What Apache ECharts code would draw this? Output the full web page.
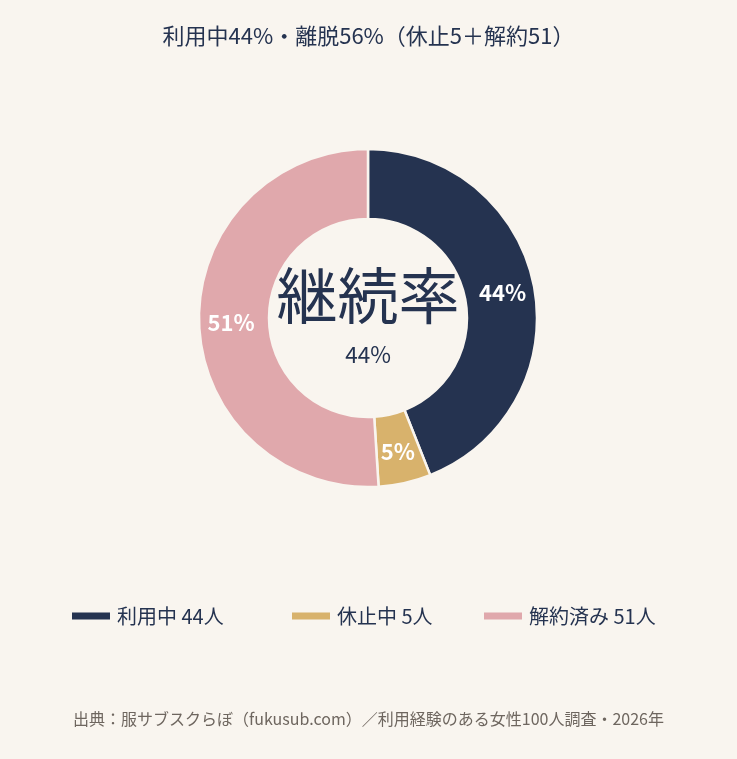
<!DOCTYPE html>
<html><head><meta charset="utf-8">
<script src="https://cdn.jsdelivr.net/npm/echarts@6/dist/echarts.min.js"></script>
<style>html,body{margin:0;padding:0;background:#f9f5ef;}#c{width:737px;height:759px;}</style>
</head><body><div id="c"></div>
<script>
const categories = ['利用中', '休止中', '解約済み'];
const counts = [44, 5, 51];
const colors = ['#253350', '#d8b26c', '#e0a8ac'];
const titleText = '利用中44%・離脱56%（休止5＋解約51）';
const centerLabel = '継続率';
const centerValue = '44%';
const sourceText = '出典：服サブスクらぼ（fukusub.com）／利用経験のある女性100人調査・2026年';

const FONT = '"Noto Sans CJK JP", "Noto Sans", sans-serif';
const total = counts.reduce((a, b) => a + b, 0);
const legendLefts = [72, 292, 484];

const chart = echarts.init(document.getElementById('c'));
chart.setOption({
  backgroundColor: '#f9f5ef',
  textStyle: { fontFamily: FONT },
  title: [
    { text: titleText, left: 'center', top: 25, padding: 0, textStyle: { fontFamily: FONT, fontSize: 22, fontWeight: 'normal', color: '#253350' } },
    { text: centerLabel, left: 368, top: 265, padding: 0, textAlign: 'center', textStyle: { fontFamily: FONT, fontSize: 61, fontWeight: 'normal', color: '#253350' } },
    { text: centerValue, left: 368, top: 343, padding: 0, textAlign: 'center', textStyle: { fontFamily: FONT, fontSize: 22.5, fontWeight: 'normal', color: '#253350' } },
    { text: sourceText, left: 'center', top: 711, padding: 0, textStyle: { fontFamily: FONT, fontSize: 16, fontWeight: 'normal', color: '#6e665f' } }
  ],
  legend: categories.map((c, i) => ({
    data: [c],
    left: legendLefts[i],
    top: 606,
    padding: 0,
    itemWidth: 38,
    itemHeight: 7,
    icon: 'rect',
    itemGap: 8,
    itemStyle: { borderWidth: 0 },
    formatter: name => name + ' ' + counts[categories.indexOf(name)] + '人',
    textStyle: { fontFamily: FONT, fontSize: 20, color: '#253350', padding: [0, 0, 0, 2] }
  })),
  series: [{
    type: 'pie',
    center: [368, 318],
    radius: [99, 169],
    startAngle: 90,
    clockwise: true,
    avoidLabelOverlap: false,
    itemStyle: { borderColor: '#f9f5ef', borderWidth: 2.5 },
    label: {
      show: true,
      position: 'inside',
      formatter: p => Math.round(p.value / total * 100) + '%',
      color: '#ffffff',
      fontFamily: FONT,
      fontSize: 22,
      fontWeight: 'bold'
    },
    labelLine: { show: false },
    emphasis: { disabled: true },
    data: categories.map((c, i) => ({ name: c, value: counts[i], itemStyle: { color: colors[i] } }))
  }]
});
</script></body></html>
